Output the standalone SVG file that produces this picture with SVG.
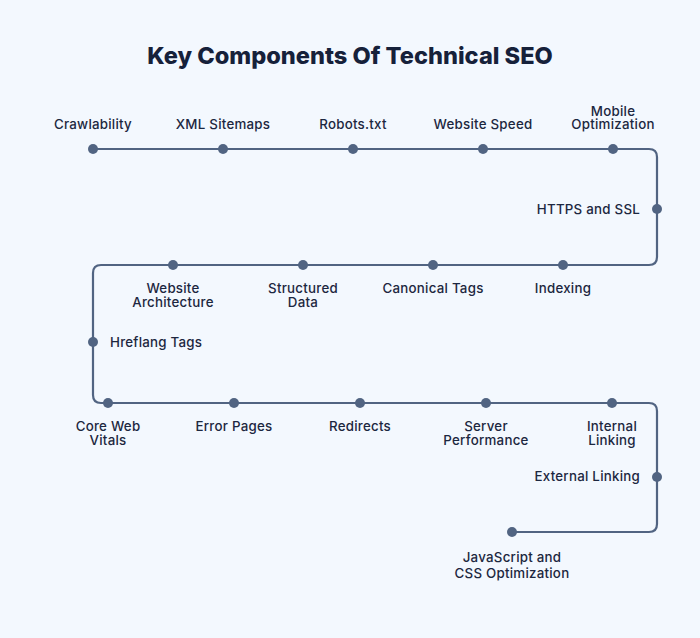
<svg xmlns="http://www.w3.org/2000/svg" width="700" height="638" viewBox="0 0 700 638">
<style>
.bg{fill:#f3f8fe}
.title{font-family:Inter,"Open Sans","DejaVu Sans",sans-serif;font-weight:800;font-size:23.6px;fill:#16213a;text-anchor:middle}
.lbl{font-family:Inter,"Open Sans","DejaVu Sans",sans-serif;font-weight:500;font-size:13.3px;letter-spacing:0.25px;fill:#1c2740;text-anchor:middle}
.r{text-anchor:end}
.l{text-anchor:start}
.dot{fill:#516482}
.line{fill:none;stroke:#516482;stroke-width:2.2}
</style>
<rect class="bg" width="700" height="638"/>
<text class="title" x="350" y="64">Key Components Of Technical SEO</text>
<g id="connectors">
<path class="line" d="M93,149 H649 Q657,149 657,157 V257 Q657,265 649,265 H101 Q93,265 93,273 V395 Q93,403 101,403 H649 Q657,403 657,411 V524 Q657,532 649,532 H512"/>
</g>
<g id="n1"><circle class="dot" cx="93" cy="149" r="5"/><text class="lbl" x="93" y="129">Crawlability</text></g>
<g id="n2"><circle class="dot" cx="223" cy="149" r="5"/><text class="lbl" x="223" y="129">XML Sitemaps</text></g>
<g id="n3"><circle class="dot" cx="353" cy="149" r="5"/><text class="lbl" x="353" y="129">Robots.txt</text></g>
<g id="n4"><circle class="dot" cx="483" cy="149" r="5"/><text class="lbl" x="483" y="129">Website Speed</text></g>
<g id="n5"><circle class="dot" cx="613" cy="149" r="5"/><text class="lbl" x="613" y="115.5">Mobile</text><text class="lbl" x="613" y="129">Optimization</text></g>
<g id="n6"><circle class="dot" cx="657" cy="209" r="5"/><text class="lbl r" x="640" y="214">HTTPS and SSL</text></g>
<g id="n7"><circle class="dot" cx="563" cy="265" r="5"/><text class="lbl" x="563" y="293">Indexing</text></g>
<g id="n8"><circle class="dot" cx="433" cy="265" r="5"/><text class="lbl" x="433" y="293">Canonical Tags</text></g>
<g id="n9"><circle class="dot" cx="303" cy="265" r="5"/><text class="lbl" x="303" y="293">Structured</text><text class="lbl" x="303" y="306.5">Data</text></g>
<g id="n10"><circle class="dot" cx="173" cy="265" r="5"/><text class="lbl" x="173" y="293">Website</text><text class="lbl" x="173" y="306.5">Architecture</text></g>
<g id="n11"><circle class="dot" cx="93" cy="342" r="5"/><text class="lbl l" x="110" y="347">Hreflang Tags</text></g>
<g id="n12"><circle class="dot" cx="108" cy="403" r="5"/><text class="lbl" x="108" y="431">Core Web</text><text class="lbl" x="108" y="444.5">Vitals</text></g>
<g id="n13"><circle class="dot" cx="234" cy="403" r="5"/><text class="lbl" x="234" y="431">Error Pages</text></g>
<g id="n14"><circle class="dot" cx="360" cy="403" r="5"/><text class="lbl" x="360" y="431">Redirects</text></g>
<g id="n15"><circle class="dot" cx="486" cy="403" r="5"/><text class="lbl" x="486" y="431">Server</text><text class="lbl" x="486" y="444.5">Performance</text></g>
<g id="n16"><circle class="dot" cx="612" cy="403" r="5"/><text class="lbl" x="612" y="431">Internal</text><text class="lbl" x="612" y="444.5">Linking</text></g>
<g id="n17"><circle class="dot" cx="657" cy="477" r="5"/><text class="lbl r" x="640" y="481">External Linking</text></g>
<g id="n18"><circle class="dot" cx="512" cy="532" r="5"/><text class="lbl" x="512" y="562">JavaScript and</text><text class="lbl" x="512" y="578">CSS Optimization</text></g>
</svg>
